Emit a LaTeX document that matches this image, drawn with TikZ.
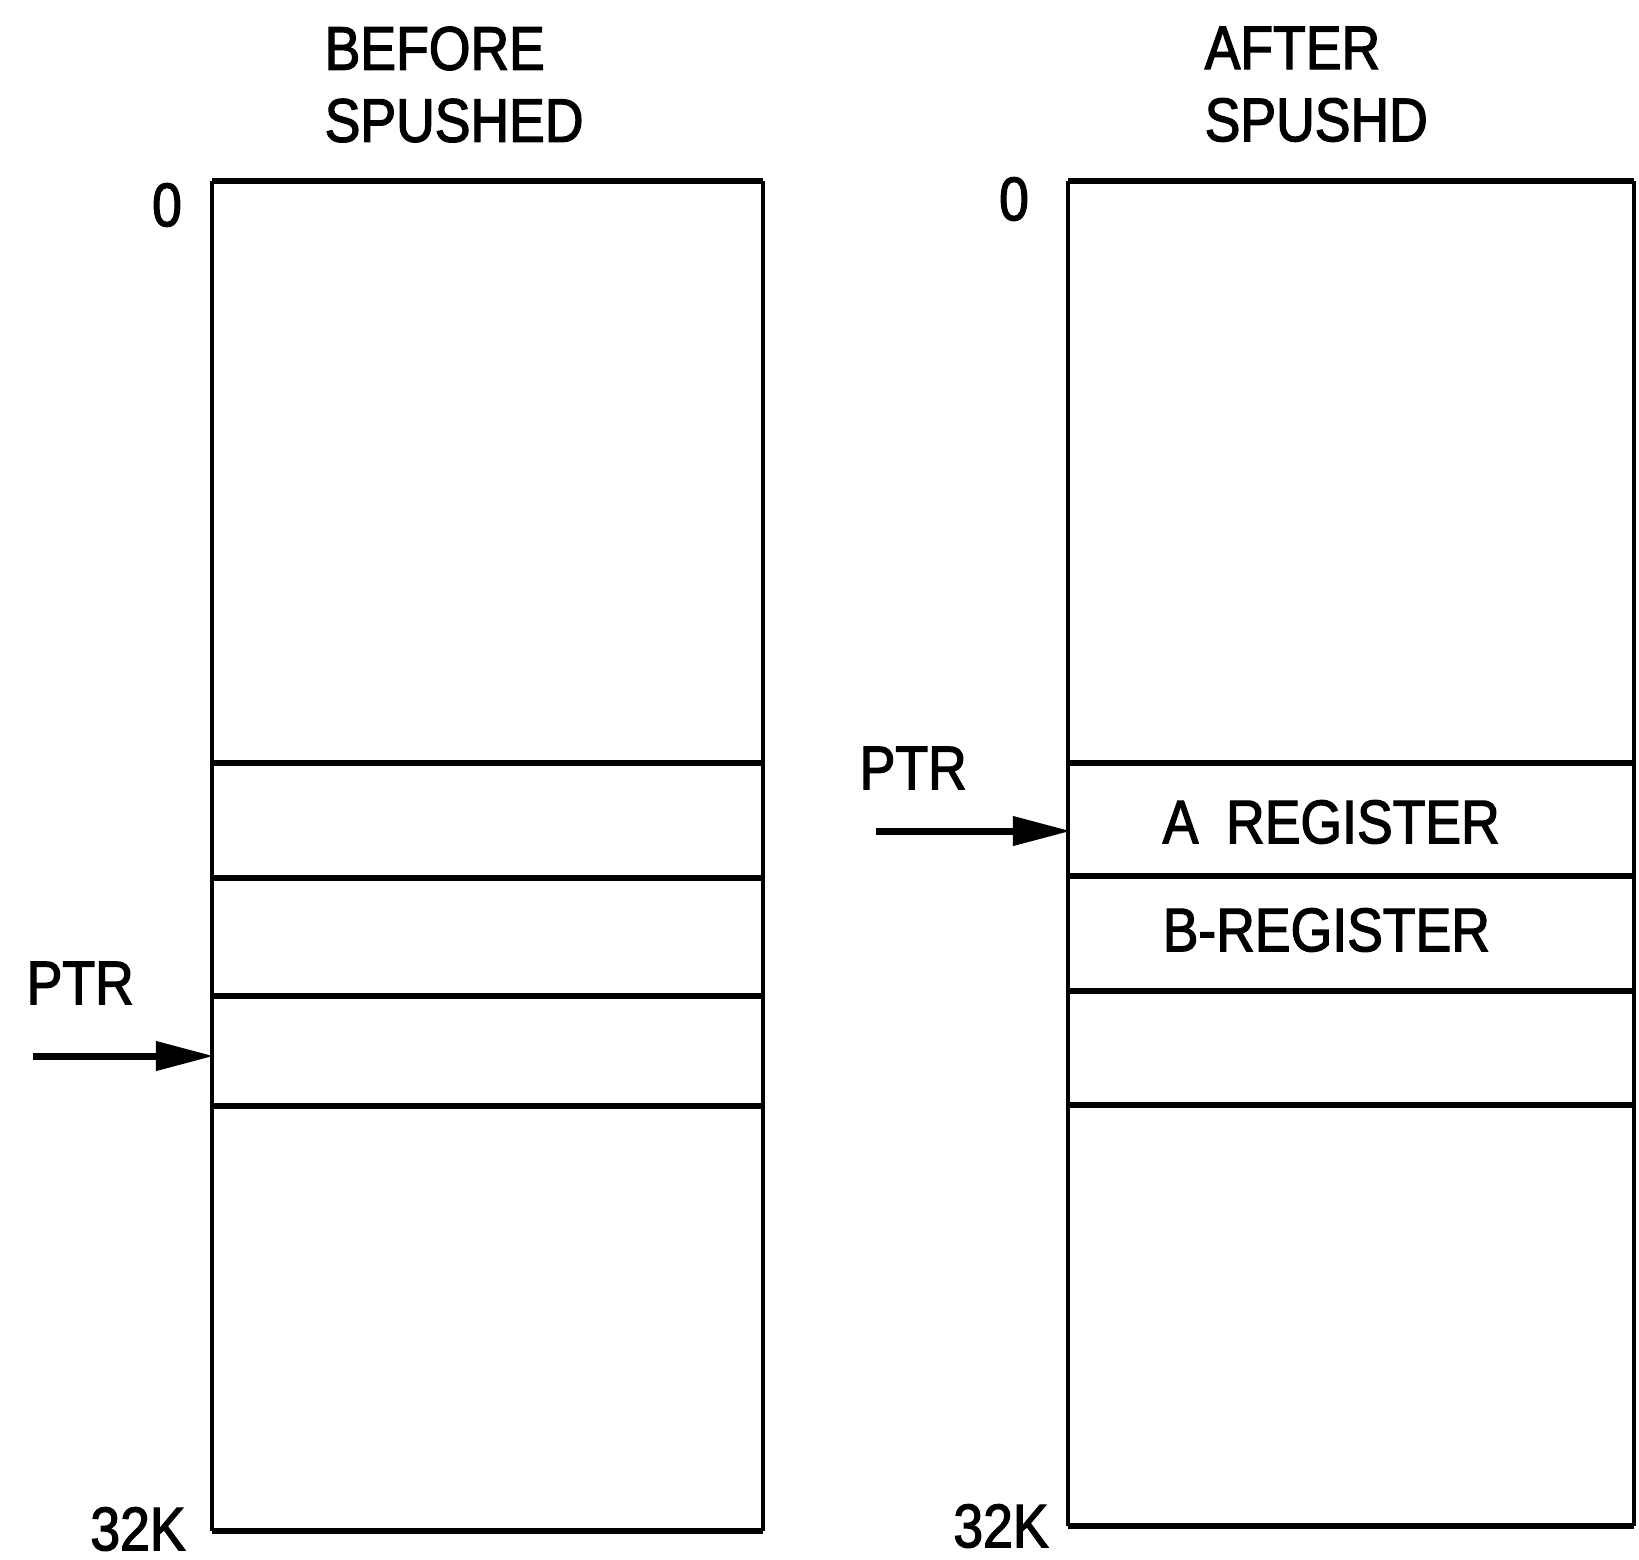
\documentclass[tikz,border=0pt]{standalone}
\usepackage{fontspec}
\setmainfont{Liberation Sans}[FakeStretch=0.87, FakeBold=2]
\usetikzlibrary{positioning,arrows.meta}

\begin{document}
\begin{tikzpicture}[x=0.01cm, y=-0.01cm,
    wall/.style={black, line width=0.9pt},
    slot/.style={black, line width=1.9pt},
    lbl/.style={font=\fontsize{17.5}{20.5}\selectfont, inner sep=0pt, align=left},
    ptrarrow/.style={-{Triangle[length=0.58cm, width=0.28cm]}, black, line width=2pt}
    ]
    \useasboundingbox (0,0) rectangle (1639,1559);
    % before SPUSHED
    \node[lbl, anchor=north west] (titleB) at (324,26) {BEFORE\\SPUSHED};
    \draw[wall] (212,181) -- (212,1531);
    \draw[wall] (763,181) -- (763,1531);
    \foreach \y in {181,763,878,996,1106,1531}
        \draw[slot] (212,\y) -- (763,\y);
    \node[lbl] (zeroB) at (167,205) {0};
    \node[lbl] (endB) at (138,1529) {32K};
    \node[lbl, anchor=west] (ptrB) at (26,983) {PTR};
    \coordinate (ptrBtail) at (33,1056);
    \coordinate (ptrBtip) at (214,1056);
    \draw[ptrarrow] (ptrBtail) -- (ptrBtip);
    % after SPUSHD
    \node[lbl, anchor=north west] (titleA) at (1204,26) {AFTER\\SPUSHD};
    \draw[wall] (1068,181) -- (1068,1526);
    \draw[wall] (1634,181) -- (1634,1526);
    \foreach \y in {181,763,876,991,1105,1526}
        \draw[slot] (1068,\y) -- (1634,\y);
    \node[lbl] (zeroA) at (1014,199) {0};
    \node[lbl] (endA) at (1001,1526) {32K};
    \node[lbl, anchor=west] (regA) at (1162,822) {A\hspace{0.45em}REGISTER};
    \node[lbl, anchor=west] (regB) at (1162,930) {B-REGISTER};
    \node[lbl, anchor=west] (ptrA) at (859,768) {PTR};
    \coordinate (ptrAtail) at (876,831);
    \coordinate (ptrAtip) at (1071,831);
    \draw[ptrarrow] (ptrAtail) -- (ptrAtip);
\end{tikzpicture}
\end{document}
